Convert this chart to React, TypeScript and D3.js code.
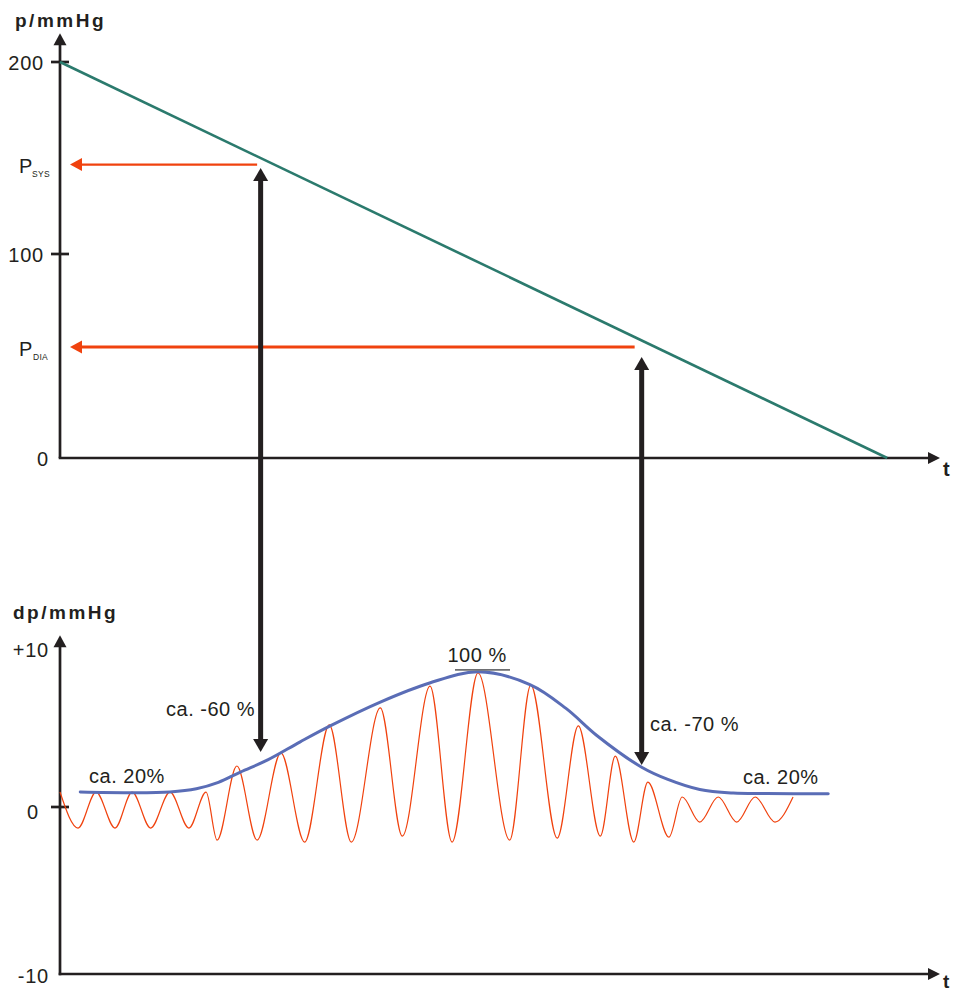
import React from 'react';
import * as d3 from 'd3';

// ---------- data ----------
const topTickValues = [200, 100, 0];
const topTickMarkValues = [200, 100];
const bottomTickValues = [10, 0, -10];
const bottomTickLabels = ['+10', '0', '-10'];
const bottomTickMarkValues = [0];

// cuff pressure ramp (t in arbitrary time units, p in mmHg)
const cuffT = [0, 94];
const cuffP = [200, 0];

// systolic / diastolic read-off levels
const levelNames = ['SYS', 'DIA'];
const levelP = [146.6, 54.4];
const levelT = [22.4, 65.3];

// vertical double arrows linking both diagrams
const linkT = [22.8, 66.1];
const linkTopP = [144.8, 49.5];
const linkDp = [3.46, 2.64];

// oscillation extrema (dp in mmHg)
const oscT = [0, 2.05, 4.1, 6.25, 8.2, 10.3, 12.5, 14.65, 16.6, 17.85, 20.1, 22.4, 25.1, 27.8, 30.6, 33.1, 36.4, 38.9, 42.05, 44.55, 47.5, 51.1, 53.5, 56.5, 58.9, 61.4, 63.1, 65.2, 66.8, 69.2, 70.7, 72.7, 74.8, 76.9, 79.0, 81.25, 83.3];
const oscDp = [0.94, -1.26, 0.94, -1.26, 0.94, -1.26, 0.94, -1.26, 0.94, -1.98, 2.58, -1.98, 3.4, -2.1, 5.16, -2.1, 6.23, -1.74, 7.6, -2.1, 8.43, -1.98, 7.67, -1.86, 5.1, -1.74, 3.2, -2.1, 1.57, -1.8, 0.63, -0.9, 0.63, -0.9, 0.63, -0.9, 0.63];

// envelope of the oscillations
const envT = [2.3, 8.0, 12.5, 15.5, 18.0, 20.5, 23.6, 27.3, 30.7, 36.4, 42.0, 47.5, 53.4, 57.5, 61.0, 66.1, 69.0, 72.7, 76.5, 80.3, 87.3];
const envDp = [0.94, 0.9, 0.95, 1.15, 1.55, 2.2, 2.96, 4.1, 5.1, 6.6, 7.8, 8.5, 7.7, 6.2, 4.5, 2.5, 1.75, 1.1, 0.88, 0.85, 0.83];

// annotations in the lower diagram
const annText = ['ca. -60 %', 'ca. -70 %', 'ca. 20%', 'ca. 20%', '100 %'];
const annT = [22.16, 67.05, 3.3, 77.6, 47.4];
const annDp = [5.72, 4.78, 1.5, 1.45, 9.1];
const annAnchor = ['end', 'start', 'start', 'start', 'middle'];

// ---------- layout ----------
const W = 954;
const H = 994;
const FONT = '"Liberation Sans", Arial, Helvetica, sans-serif';
const INK = '#231f20';
const GREEN = '#2b7a6d';
const ORANGE = '#f0420e';
const BLUE = '#5a6db6';

const xScale = d3.scaleLinear().domain([0, 100]).range([60, 940]);
const yTop = d3.scaleLinear().domain([0, 100, 200]).range([458, 254, 62]);
const yBot = d3.scaleLinear().domain([-10, 0, 10]).range([974, 807, 648]);
const TOP_AXIS_MAX = 215;
const BOT_AXIS_MAX = 10.8;

function headDown(x: number, y: number, w: number, l: number) {
  return `${x},${y} ${x - w / 2},${y - l} ${x + w / 2},${y - l}`;
}
function headUp(x: number, y: number, w: number, l: number) {
  return `${x},${y} ${x - w / 2},${y + l} ${x + w / 2},${y + l}`;
}
function headRight(x: number, y: number, w: number, l: number) {
  return `${x},${y} ${x - l},${y - w / 2} ${x - l},${y + w / 2}`;
}
function headLeft(x: number, y: number, w: number, l: number) {
  return `${x},${y} ${x + l},${y - w / 2} ${x + l},${y + w / 2}`;
}

export default function App() {
  const x0 = xScale(0);
  const xEnd = xScale(100);

  const cuffLine = d3
    .line<number>()
    .x((_, i) => xScale(cuffT[i]))
    .y((_, i) => yTop(cuffP[i]))(cuffT) as string;

  const oscLine = d3
    .line<number>()
    .x((_, i) => xScale(oscT[i]))
    .y((_, i) => yBot(oscDp[i]))
    .curve(d3.curveMonotoneX)(oscT) as string;

  const envLine = d3
    .line<number>()
    .x((_, i) => xScale(envT[i]))
    .y((_, i) => yBot(envDp[i]))
    .curve(d3.curveCatmullRom.alpha(0.5))(envT) as string;

  const peakIdx = envDp.indexOf(Math.max(...envDp));
  const peakX = xScale(envT[peakIdx]);
  const peakY = yBot(envDp[peakIdx]);

  const yTop0 = yTop(0);
  const yBot0 = yBot(-10);

  return (
    <svg
      width={W}
      height={H}
      viewBox={`0 0 ${W} ${H}`}
      style={{ position: 'absolute', left: 0, top: 0, display: 'block', background: '#fff' }}
      fontFamily={FONT}
    >
      <rect x={0} y={0} width={W} height={H} fill="#fff" />

      {/* ---------- upper diagram ---------- */}
      <text x={15} y={27} fontSize={19} fontWeight="bold" fill={INK} letterSpacing={2.5}>
        p/mmHg
      </text>
      <line x1={x0} x2={x0} y1={yTop0} y2={yTop(TOP_AXIS_MAX) + 10} stroke={INK} strokeWidth={2.7} />
      <polygon points={headUp(x0, yTop(TOP_AXIS_MAX), 13, 12)} fill={INK} />
      <line x1={x0 - 1.3} x2={xEnd - 10} y1={yTop0} y2={yTop0} stroke={INK} strokeWidth={2.7} />
      <polygon points={headRight(xEnd, yTop0, 12, 12)} fill={INK} />
      <text x={943} y={yTop0 + 18} fontSize={20} fontWeight="bold" fill={INK}>t</text>

      {topTickMarkValues.map((v) => (
        <line key={'tm' + v} x1={x0 - 9} x2={x0 + 9} y1={yTop(v)} y2={yTop(v)} stroke={INK} strokeWidth={2.7} />
      ))}
      {topTickValues.map((v) => {
        const hasMark = topTickMarkValues.includes(v);
        return (
          <text
            key={'tl' + v}
            x={hasMark ? x0 - 16 : x0 - 11}
            y={yTop(v) + 8}
            fontSize={20}
            textAnchor="end"
            fill={INK}
            letterSpacing={0.8}
          >
            {v}
          </text>
        );
      })}

      <path d={cuffLine} fill="none" stroke={GREEN} strokeWidth={2.6} />

      {levelP.map((p, i) => {
        const y = yTop(p);
        const tipX = x0 + 10;
        return (
          <g key={'lvl' + i}>
            <line x1={xScale(levelT[i])} x2={tipX + 10} y1={y} y2={y} stroke={ORANGE} strokeWidth={i === 0 ? 2.2 : 2.8} />
            <polygon points={headLeft(tipX, y, 13, 12)} fill={ORANGE} />
            <text x={19} y={y + 8.5} fontSize={20} fill={INK}>
              P
            </text>
            <text x={i === 0 ? 32 : 33} y={y + 12.5} fontSize={8.5} fill={INK} letterSpacing={0.3}>
              {levelNames[i]}
            </text>
          </g>
        );
      })}

      {linkT.map((t, i) => {
        const x = xScale(t);
        const yA = yTop(linkTopP[i]);
        const yB = yBot(linkDp[i]);
        return (
          <g key={'lnk' + i}>
            <line x1={x} x2={x} y1={yA + 10} y2={yB - 10} stroke={INK} strokeWidth={5} />
            <polygon points={headUp(x, yA, 15, 13)} fill={INK} />
            <polygon points={headDown(x, yB, 15, 13)} fill={INK} />
          </g>
        );
      })}

      {/* ---------- lower diagram ---------- */}
      <text x={13} y={619} fontSize={19} fontWeight="bold" fill={INK} letterSpacing={2.5}>
        dp/mmHg
      </text>
      <line x1={x0} x2={x0} y1={yBot0 + 1.3} y2={yBot(BOT_AXIS_MAX) + 10} stroke={INK} strokeWidth={2.7} />
      <polygon points={headUp(x0, yBot(BOT_AXIS_MAX), 13, 12)} fill={INK} />
      <line x1={x0 - 1.3} x2={xEnd - 10} y1={yBot0} y2={yBot0} stroke={INK} strokeWidth={2.7} />
      <polygon points={headRight(xEnd, yBot0, 12, 12)} fill={INK} />
      <text x={943} y={yBot0 + 14} fontSize={19} fontWeight="bold" fill={INK}>t</text>

      {bottomTickMarkValues.map((v) => (
        <line key={'bm' + v} x1={x0 - 9} x2={x0 + 9} y1={yBot(v)} y2={yBot(v)} stroke={INK} strokeWidth={2.7} />
      ))}
      {bottomTickValues.map((v, i) => {
        const hasMark = bottomTickMarkValues.includes(v);
        return (
          <text
            key={'bl' + v}
            x={hasMark ? x0 - 21 : x0 - 11}
            y={yBot(v) + (hasMark ? 12 : 9)}
            fontSize={20}
            textAnchor="end"
            fill={INK}
            letterSpacing={0.8}
          >
            {bottomTickLabels[i]}
          </text>
        );
      })}

      <path d={oscLine} fill="none" stroke={ORANGE} strokeWidth={1.2} />
      <path d={envLine} fill="none" stroke={BLUE} strokeWidth={3} strokeLinecap="round" />

      <line x1={peakX - 23} x2={peakX + 32} y1={peakY - 2} y2={peakY - 2} stroke="#6d6e71" strokeWidth={1.6} />

      {annText.map((s, i) => (
        <text
          key={'ann' + i}
          x={xScale(annT[i])}
          y={yBot(annDp[i])}
          fontSize={20}
          fill={INK}
          textAnchor={annAnchor[i] as any}
          letterSpacing={0.5}
        >
          {s}
        </text>
      ))}
    </svg>
  );
}
